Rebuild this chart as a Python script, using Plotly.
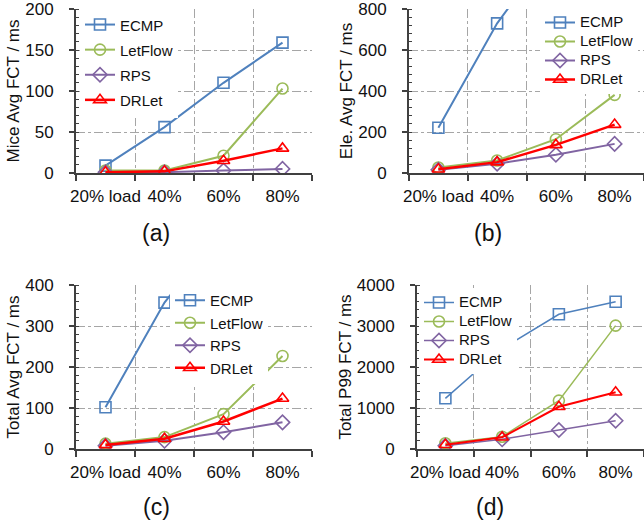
import plotly.graph_objects as go

loads = ["20% load", "40%", "60%", "80%"]
series_names = ["ECMP", "LetFlow", "RPS", "DRLet"]

mice_ecmp = [9, 56, 110, 159]
mice_letflow = [3, 3, 21, 103]
mice_rps = [1, 1, 3, 5]
mice_drlet = [1, 2, 15, 30]

ele_ecmp = [221, 730, 1120, 1500]
ele_letflow = [27, 61, 165, 381]
ele_rps = [16, 45, 89, 142]
ele_drlet = [18, 53, 137, 236]

tot_ecmp = [102, 357, 541, 700]
tot_letflow = [13, 29, 85, 227]
tot_rps = [8, 20, 41, 65]
tot_drlet = [10, 25, 67, 123]

p99_ecmp = [1236, 2450, 3285, 3593]
p99_letflow = [140, 300, 1180, 3010]
p99_rps = [80, 236, 463, 690]
p99_drlet = [105, 285, 1030, 1385]

y_titles = ["Mice Avg FCT / ms", "Ele. Avg FCT / ms", "Total Avg FCT / ms", "Total P99 FCT / ms"]
y_ranges = [200, 800, 400, 4000]
y_dticks = [50, 200, 100, 1000]
panel_labels = ["(a)", "(b)", "(c)", "(d)"]

panels = [
    [mice_ecmp, mice_letflow, mice_rps, mice_drlet],
    [ele_ecmp, ele_letflow, ele_rps, ele_drlet],
    [tot_ecmp, tot_letflow, tot_rps, tot_drlet],
    [p99_ecmp, p99_letflow, p99_rps, p99_drlet],
]

colors = ["#4F81BD", "#9BBB59", "#8064A2", "#FF0000"]
symbols = ["square-open", "circle-open", "diamond-open", "triangle-up-open"]
panel_widths = [
    [2, 2, 2, 2.5],
    [2, 2, 2, 2.5],
    [2, 2, 2, 2.5],
    [1.5, 1.5, 1.5, 2],
]

W, H = 644, 524
FONT = "Arial, Liberation Sans, sans-serif"


def fx(px):
    return px / W


def fy(py):
    return 1 - py / H


# plot-area boxes in pixels (left, right, top, bottom)
boxes = [
    (76, 312, 9, 173),
    (409, 644, 9, 173),
    (76, 312, 285, 449),
    (417, 644, 285, 449),
]
legend_pos = [(80, 7), (540, 8), (170, 284), (419, 288)]
# legend row pitch is driven by the legend font size; entry text stays 15px
legend_row_font = [17, 12, 15, 12]
label_pos = [(156, 233), (488, 233), (156, 507), (490, 507)]

fig = go.Figure()
layout = dict(
    width=W, height=H,
    margin=dict(l=0, r=0, t=0, b=0, autoexpand=False),
    paper_bgcolor="white", plot_bgcolor="white",
    font=dict(family=FONT, size=17, color="#111111"),
    annotations=[],
)

for i, data in enumerate(panels):
    n = "" if i == 0 else str(i + 1)
    legname = "legend" + n
    for j, vals in enumerate(data):
        fig.add_trace(go.Scatter(
            x=loads, y=vals,
            name='<span style="font-size:15px">%s</span>' % series_names[j],
            mode="lines+markers",
            line=dict(color=colors[j], width=panel_widths[i][j]),
            marker=dict(symbol=symbols[j], size=11, color=colors[j],
                        line=dict(width=1.6, color=colors[j])),
            xaxis="x" + n, yaxis="y" + n, legend=legname,
            cliponaxis=True,
        ))
    l, r, t, b = boxes[i]
    layout["xaxis" + n] = dict(
        domain=[fx(l), min(fx(r), 1.0)], anchor="y" + n,
        type="category", range=[-0.5, 3.5],
        tickson="boundaries", ticks="outside", ticklen=6, tickwidth=1.5,
        tickcolor="#404040", tickangle=0, ticklabelstandoff=7,
        showline=True, linecolor="#404040", linewidth=1.8,
        showgrid=True, gridcolor="#A6A6A6", griddash="dashdot", gridwidth=1,
        tickfont=dict(size=17), automargin=False, ticklabeloverflow="allow",
    )
    layout["yaxis" + n] = dict(
        domain=[fy(b), fy(t)], anchor="x" + n,
        range=[0, y_ranges[i]], dtick=y_dticks[i], tick0=0,
        ticks="outside", ticklen=5, tickwidth=1.5, tickcolor="#404040",
        ticklabelstandoff=12,
        minor=dict(dtick=y_dticks[i] / 5, ticks="inside", ticklen=3,
                   tickcolor="#404040", tickwidth=1.2, showgrid=False),
        showline=True, linecolor="#404040", linewidth=1.8,
        showgrid=True, gridcolor="#A6A6A6", griddash="dashdot", gridwidth=1,
        zeroline=False,
        title=dict(text=y_titles[i], font=dict(size=17), standoff=1),
        tickfont=dict(size=17), automargin=False, ticklabeloverflow="allow",
    )
    lx, ly = legend_pos[i]
    layout[legname] = dict(
        x=fx(lx), y=fy(ly), xanchor="left", yanchor="top",
        bgcolor="white", borderwidth=0,
        font=dict(size=legend_row_font[i], family=FONT, color="#111111"),
        tracegroupgap=0, itemwidth=30,
    )
    px, py = label_pos[i]
    layout["annotations"].append(dict(
        text=panel_labels[i], x=fx(px), y=fy(py), xref="paper", yref="paper",
        showarrow=False, font=dict(size=23, family=FONT, color="#111111"),
        xanchor="center", yanchor="middle",
    ))

fig.update_layout(**layout)
fig.write_html("out.html", config={"displayModeBar": False},
               post_script="document.body.style.margin='0';")
